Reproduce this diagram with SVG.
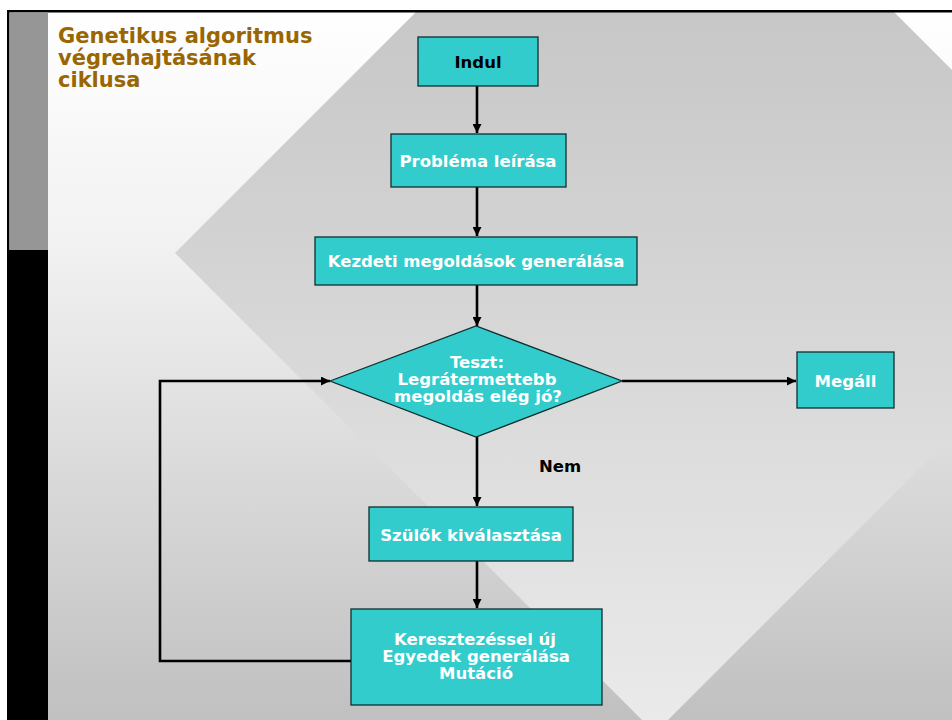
<svg xmlns="http://www.w3.org/2000/svg" width="952" height="720" viewBox="0 0 952 720">
  <style>
    .box { fill: #33cccc; stroke: #0f2e2e; stroke-width: 1.3; }
    .lbl { font-family: "DejaVu Sans", Verdana, sans-serif; font-weight: bold; font-size: 16.5px; fill: #ffffff; text-anchor: middle; }
    .dark { fill: #000000; }
    .title { font-family: "DejaVu Sans", Verdana, sans-serif; font-weight: bold; font-size: 21px; fill: #996600; }
    .conn { fill: none; stroke: #000000; stroke-width: 2.6; }
  </style>
  <defs>
    <linearGradient id="bg" gradientUnits="userSpaceOnUse" x1="0" y1="10" x2="0" y2="720">
      <stop offset="0" stop-color="#ffffff"/>
      <stop offset="0.34" stop-color="#f1f1f1"/>
      <stop offset="1" stop-color="#c0c0c0"/>
    </linearGradient>
    <linearGradient id="dia" gradientUnits="userSpaceOnUse" x1="0" y1="10" x2="0" y2="720">
      <stop offset="0" stop-color="#c7c7c7"/>
      <stop offset="1" stop-color="#eaeaea"/>
    </linearGradient>
    <clipPath id="slide">
      <rect x="48" y="12" width="904" height="708"/>
    </clipPath>
    <marker id="arr" markerUnits="userSpaceOnUse" markerWidth="10" markerHeight="9" refX="9" refY="4.5" orient="auto">
      <path d="M0,0 L9,4.5 L0,9 z" fill="#000000"/>
    </marker>
  </defs>

  <!-- slide background -->
  <rect x="0" y="0" width="952" height="720" fill="#ffffff"/>
  <rect x="48" y="12" width="904" height="708" fill="url(#bg)"/>
  <polygon clip-path="url(#slide)" points="175,253 655,-227 1135,253 655,733" fill="url(#dia)"/>
  <rect x="7" y="10" width="945" height="2.5" fill="#000000"/>
  <rect x="7" y="10" width="2.5" height="710" fill="#000000"/>
  <rect x="9.5" y="12.5" width="38.5" height="237.5" fill="#969696"/>
  <rect x="7" y="250" width="41" height="470" fill="#000000"/>

  <g id="title">
    <text class="title" x="58" y="43">Genetikus algoritmus</text>
    <text class="title" x="58" y="65">végrehajtásának</text>
    <text class="title" x="58" y="87">ciklusa</text>
  </g>

  <g id="connectors">
    <path class="conn" d="M477,86 V133" marker-end="url(#arr)"/>
    <path class="conn" d="M477,187 V236" marker-end="url(#arr)"/>
    <path class="conn" d="M477,285 V326" marker-end="url(#arr)"/>
    <path class="conn" d="M477,437 V506" marker-end="url(#arr)"/>
    <path class="conn" d="M477,561 V608" marker-end="url(#arr)"/>
    <path class="conn" d="M622,381 H796" marker-end="url(#arr)"/>
    <path class="conn" d="M351,661 H160 V381 H330" marker-end="url(#arr)"/>
  </g>

  <g id="node-indul">
    <rect class="box" x="418" y="37" width="120" height="49"/>
    <text class="lbl dark" x="478" y="68">Indul</text>
  </g>

  <g id="node-problema">
    <rect class="box" x="391" y="134" width="175" height="53"/>
    <text class="lbl" x="478" y="167">Probléma leírása</text>
  </g>

  <g id="node-kezdeti">
    <rect class="box" x="315" y="237" width="322" height="48"/>
    <text class="lbl" x="476" y="267">Kezdeti megoldások generálása</text>
  </g>

  <g id="node-teszt">
    <polygon class="box" points="330,381 476,326 622,381 476,437"/>
    <text class="lbl" x="477" y="368">Teszt:</text>
    <text class="lbl" x="477" y="385">Legrátermettebb</text>
    <text class="lbl" x="478" y="402">megoldás elég jó?</text>
  </g>

  <g id="node-megall">
    <rect class="box" x="797" y="352" width="97" height="56"/>
    <text class="lbl" x="845.5" y="387">Megáll</text>
  </g>

  <g id="label-nem">
    <text class="lbl dark" x="560" y="472">Nem</text>
  </g>

  <g id="node-szulok">
    <rect class="box" x="369" y="507" width="204" height="54"/>
    <text class="lbl" x="471" y="541">Szülők kiválasztása</text>
  </g>

  <g id="node-keresztezes">
    <rect class="box" x="351" y="609" width="251" height="96"/>
    <text class="lbl" x="475" y="645">Keresztezéssel új</text>
    <text class="lbl" x="476" y="662">Egyedek generálása</text>
    <text class="lbl" x="476" y="679">Mutáció</text>
  </g>
</svg>
